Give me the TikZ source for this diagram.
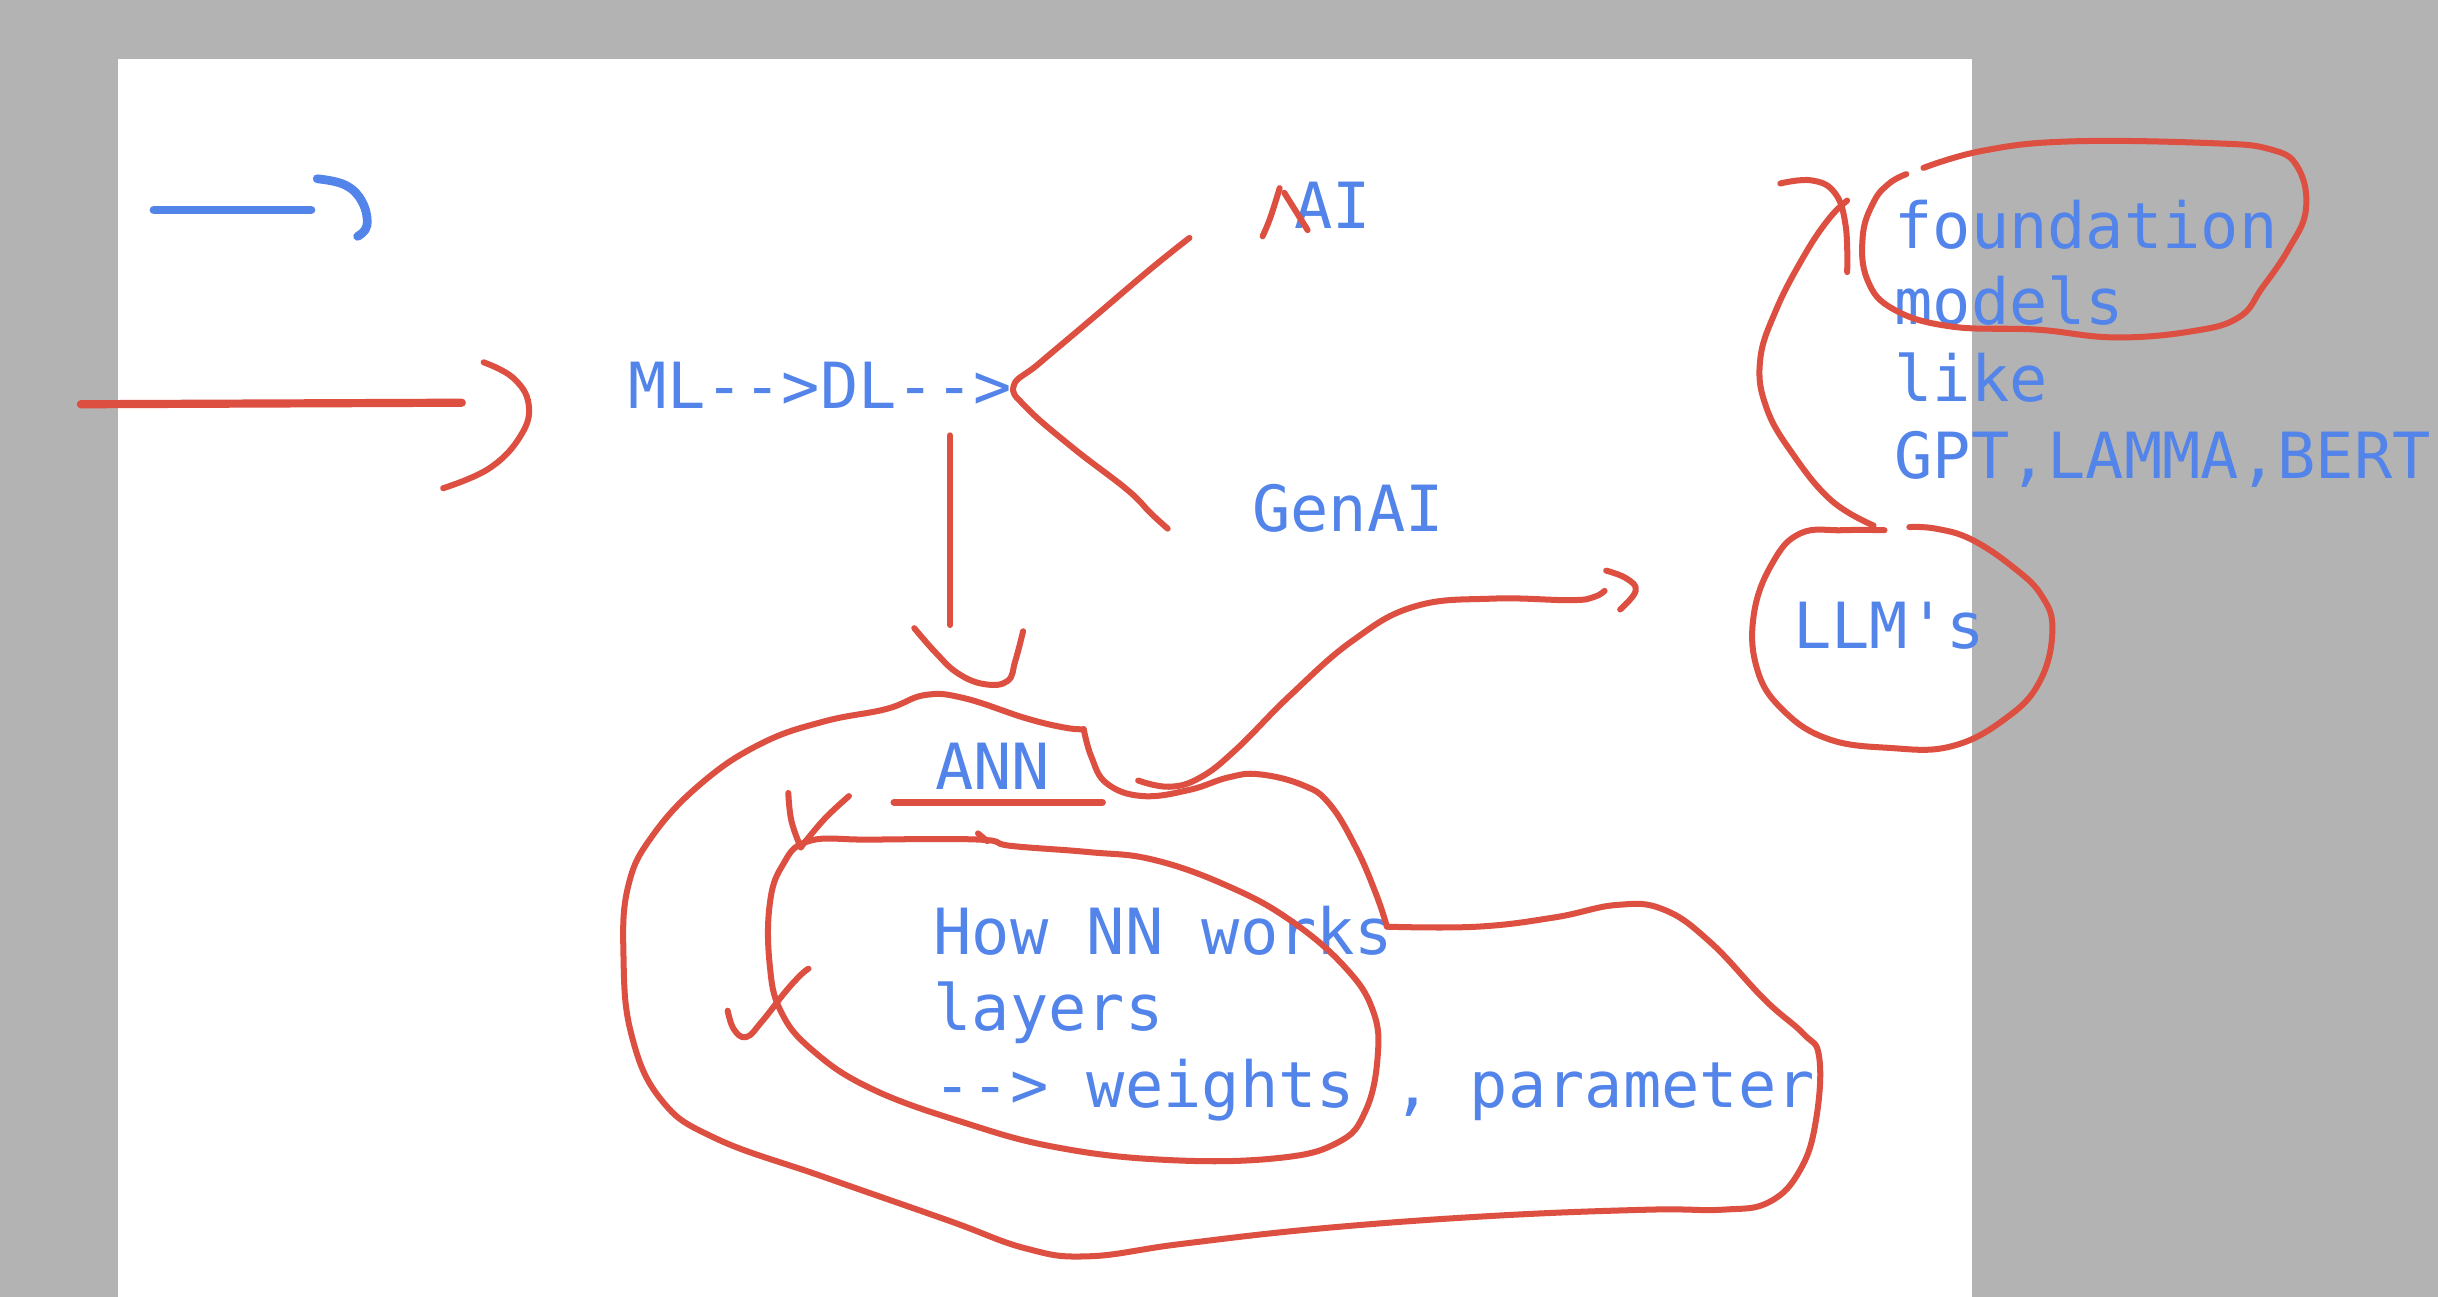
\documentclass[tikz,border=0pt]{standalone}
\usepackage{fontspec}
\usepackage{xcolor}
\usepackage{tikz}
\usetikzlibrary{positioning}
\newfontfamily\boardfont{DejaVu Sans Mono}[Ligatures=TeXOff]
\definecolor{penred}{HTML}{DC4F41}
\definecolor{penblue}{HTML}{5384EA}
\definecolor{deskgray}{HTML}{B3B3B3}

\begin{document}
\begin{tikzpicture}[
        x=0.02cm, y=-0.02cm,
        ink/.style={
            draw=penred,
            line width=2.2pt,
            line cap=round,
            line join=round,
            tension=0.7
        },
        inkblue/.style={
            draw=penblue,
            line width=3.2pt,
            line cap=round,
            tension=0.7
        },
        word/.style={
            font=\boardfont\fontsize{23.3pt}{28pt}\selectfont,
            text=penblue,
            inner sep=0pt,
            anchor=base west
        }
    ]
        % Board
        \useasboundingbox (0,0) rectangle (1568,834);
        \fill[deskgray] (0,0) rectangle (1568,834);
        \fill[white] (76,38) rectangle (1268,834);

        % Words
        \node[word] (ml) at (404,263) {ML-->DL-->};
        \node[word] (ai) at (832,147) {AI};
        \node[word] (genai) at (805,342) {GenAI};
        \node[word] (ann) at (601,508) {ANN};
        \node[word] (nn1) at (600,614) {How NN works};
        \node[word] (nn2) at (600,663) {layers};
        \node[word] (nn3) at (600,712) {--> weights , parameter};
        \node[word] (llm) at (1153,417) {LLM's};
        \node[word] (fm1) at (1218,160) {foundation};
        \node[word] (fm2) at (1218,209) {models};
        \node[word] (fm3) at (1218,258) {like};
        \node[word] (fm4) at (1218,308) {GPT,LAMMA,BERT};

        % Blue marks
        \draw[inkblue] (99,135) -- (200,135);
        \draw[inkblue] plot[smooth] coordinates {(204,115) (222,119) (233,130) (236,145) (230,152)};

        % Red marks on the left
        \draw[ink, line width=3pt] (52,260) -- (297,259);
        \draw[ink] plot[smooth] coordinates {(311,233) (330,243) (340,260) (335,280) (315,301) (285,314)};

        % Branch to AI and GenAI
        \draw[ink] plot[smooth] coordinates {(765,153) (740,173) (700,207) (668,234) (652,248) (660,262) (690,288) (725,315) (740,330) (751,340)};
        \draw[ink] plot[smooth] coordinates {(812,152) (817,140) (823,121)};
        \draw[ink] (826,124) -- (841,148);

        % Down to ANN
        \draw[ink] (611,280) -- (611,402);
        \draw[ink] plot[smooth] coordinates {(588,404) (602,420) (616,433) (633,440) (648,438) (653,425) (658,406)};
        \draw[ink, line width=2.6pt] (575,516) -- (709,516);

        % Outer loop round ANN
        \draw[ink] plot[smooth] coordinates {(697,469) (702,487) (712,504) (735,512) (765,508) (790,500) (810,498) (838,505) (855,517) (872,545) (885,575) (892,596)};
        \draw[ink] plot[smooth] coordinates {(892,596) (950,596) (1000,590) (1040,582) (1070,585) (1100,606) (1135,643) (1160,665) (1170,680) (1168,720) (1158,752) (1138,773) (1108,778) (1060,778) (960,782) (850,790) (760,800) (700,808) (660,803) (610,785) (530,757) (460,732) (425,707) (406,665) (401,615) (404,570) (420,537) (452,503) (490,478) (530,464) (570,456) (595,447) (620,449) (660,462) (685,468) (697,469)};

        % Inner loop
        \draw[ink] plot[smooth cycle] coordinates {(520,541) (560,540) (630,540) (650,544) (700,548) (742,553) (790,570) (830,592) (865,622) (883,650) (886,680) (878,715) (860,735) (820,745) (750,746) (680,738) (620,722) (560,700) (522,675) (502,650) (495,620) (495,582) (503,557)};
        \draw[ink] (629,536) -- (635,541);
        \draw[ink] plot[smooth] coordinates {(507,510) (509,528) (515,545)};
        \draw[ink] plot[smooth] coordinates {(546,512) (530,527) (515,545)};
        \draw[ink] plot[smooth] coordinates {(468,650) (472,662) (480,667) (490,657) (505,638) (515,627) (520,623)};

        % ANN to LLM's
        \draw[ink] plot[smooth] coordinates {(732,502) (752,506) (772,500) (795,482) (830,447) (870,412) (910,390) (960,385) (1010,386) (1025,384) (1032,380)};
        \draw[ink] plot[smooth] coordinates {(1033,367) (1046,372) (1052,380) (1042,392)};

        % LLM's loop
        \draw[ink] plot[smooth] coordinates {(1212,341) (1185,341) (1158,343) (1140,362) (1128,395) (1130,430) (1146,456) (1175,475) (1215,481) (1255,480) (1290,462) (1312,438) (1320,405) (1313,383) (1295,365) (1268,347) (1245,340) (1228,339)};

        % LLM's up to foundation models
        \draw[ink] plot[smooth] coordinates {(1205,338) (1178,322) (1153,292) (1136,262) (1132,232) (1142,200) (1160,165) (1176,141) (1188,129)};
        \draw[ink] plot[smooth] coordinates {(1145,118) (1165,116) (1180,124) (1187,145) (1188,175)};

        % Foundation loop
        \draw[ink] plot[smooth] coordinates {(1237,108) (1275,97) (1330,91) (1420,92) (1460,96) (1478,108) (1483,135) (1472,160) (1455,185) (1440,204) (1410,213) (1360,217) (1310,212) (1255,210) (1218,199) (1201,180) (1198,152) (1205,130) (1215,118) (1226,112)};
\end{tikzpicture}
\end{document}
